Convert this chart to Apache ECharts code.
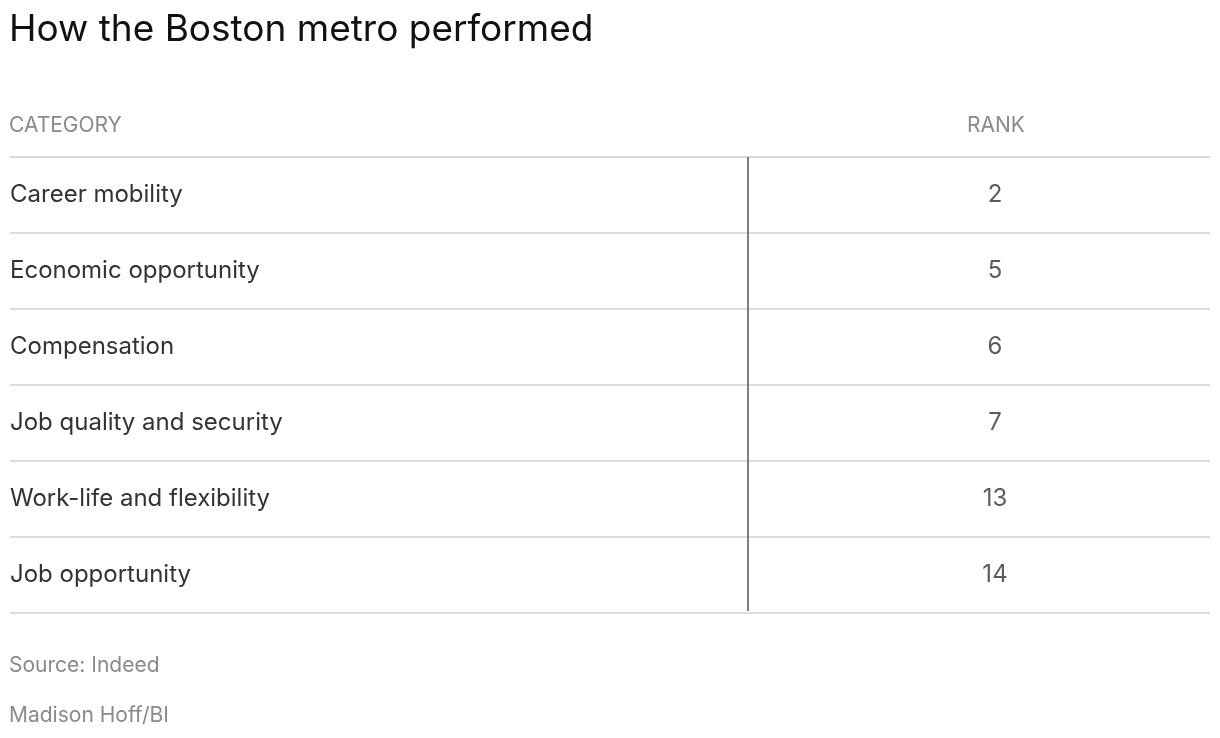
<!DOCTYPE html>
<html><head><meta charset="utf-8">
<script src="https://cdn.jsdelivr.net/npm/echarts@6/dist/echarts.min.js"></script>
<style>body{margin:0;background:#fff}#c{width:1220px;height:738px}</style>
</head><body><div id="c"></div>
<script>
var categories = ['Career mobility', 'Economic opportunity', 'Compensation', 'Job quality and security', 'Work-life and flexibility', 'Job opportunity'];
var ranks = [2, 5, 6, 7, 13, 14];
var font = 'Inter, "Noto Sans", sans-serif';

var chart = echarts.init(document.getElementById('c'));
chart.setOption({
  animation: false,
  textStyle: { fontFamily: font },
  title: [
    { text: 'How the Boston metro performed', left: 4, top: 6, textStyle: { fontSize: 37, fontWeight: 'normal', color: '#111', fontFamily: font } },
    { text: 'CATEGORY', left: 4, top: 110, textStyle: { fontSize: 21, fontWeight: 'normal', color: '#8a8a8a', fontFamily: font } },
    { text: 'RANK', left: 962, top: 110, textStyle: { fontSize: 21, fontWeight: 'normal', color: '#8a8a8a', fontFamily: font } },
    { text: 'Source: Indeed', left: 4, top: 650, textStyle: { fontSize: 21, fontWeight: 'normal', color: '#8a8a8a', fontFamily: font } },
    { text: 'Madison Hoff/BI', left: 4, top: 700, textStyle: { fontSize: 21, fontWeight: 'normal', color: '#8a8a8a', fontFamily: font } }
  ],
  grid: { left: 10, right: 10, top: 157, height: 456, containLabel: false, outerBoundsMode: 'none' },
  xAxis: {
    type: 'value', min: 0, max: 1200, position: 'top',
    axisLine: { show: true, lineStyle: { color: '#d0d0d0', width: 1.5 } },
    axisTick: { show: false }, axisLabel: { show: false }, splitLine: { show: false }
  },
  yAxis: {
    type: 'category', data: categories, inverse: true, position: 'left',
    axisLine: { show: false }, axisTick: { show: false },
    axisLabel: { inside: true, align: 'left', margin: 0, fontSize: 24, color: '#333', fontFamily: font },
    splitLine: { show: true, interval: function (i) { return i > 0 && i < categories.length; }, lineStyle: { color: '#d0d0d0', width: 1.5 } }
  },
  series: [{
    type: 'scatter', symbolSize: 0,
    data: ranks.map(function (r, i) { return { value: [985, categories[i]], rank: r }; }),
    label: { show: true, position: 'inside', fontSize: 24, color: '#333', fontFamily: font,
      formatter: function (p) { return String(p.data.rank); } },
    markLine: {
      symbol: 'none', silent: true, label: { show: false },
      lineStyle: { color: '#555', width: 1.5, type: 'solid' },
      data: [[{ x: 748, y: 157 }, { x: 748, y: 611 }]]
    }
  }]
});
</script></body></html>
